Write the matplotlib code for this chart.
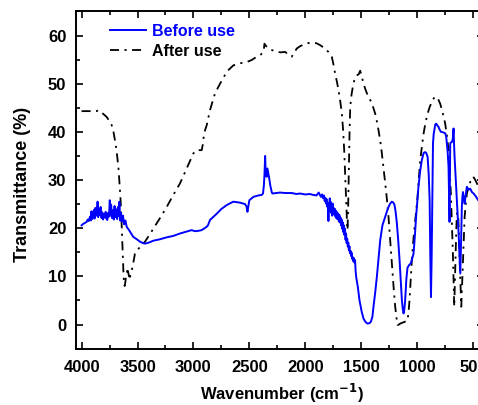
import matplotlib.pyplot as plt
from matplotlib.ticker import MultipleLocator

plt.rcParams['font.family'] = ['Liberation Sans', 'DejaVu Sans']
plt.rcParams['font.weight'] = 'bold'

# Before use (blue) - wavenumber / transmittance
before_wn = [4000, 3985, 3970, 3955, 3945, 3935, 3925, 3918, 3912, 3905, 3898, 3890,
             3884, 3878, 3870, 3862, 3857, 3852, 3845, 3838, 3830, 3822, 3815, 3808,
             3800, 3792, 3785, 3778, 3770, 3762, 3755, 3748, 3742, 3736, 3728, 3720,
             3712, 3705, 3698, 3690, 3682, 3675, 3668, 3662, 3655, 3648, 3640, 3630,
             3620, 3608, 3597, 3570, 3538, 3500, 3478, 3450, 3433, 3400, 3359, 3300,
             3239, 3180, 3120, 3060, 3016, 2990, 2971, 2945, 2926, 2900, 2881, 2870,
             2852, 2820, 2792, 2750, 2702, 2670, 2643, 2610, 2583, 2555, 2538, 2525,
             2517, 2508, 2500, 2480, 2464, 2420, 2390, 2378, 2370, 2364, 2359, 2354,
             2348, 2344, 2338, 2335, 2328, 2320, 2314, 2300, 2294, 2260, 2225, 2180,
             2120, 2080, 2046, 2000, 1960, 1927, 1900, 1880, 1860, 1850, 1840, 1832,
             1826, 1820, 1814, 1808, 1802, 1797, 1793, 1789, 1785, 1781, 1778, 1774,
             1770, 1765, 1760, 1755, 1750, 1745, 1740, 1735, 1730, 1725, 1720, 1715,
             1710, 1705, 1700, 1695, 1690, 1685, 1680, 1675, 1670, 1665, 1660, 1655,
             1650, 1645, 1640, 1635, 1630, 1625, 1620, 1615, 1610, 1605, 1600, 1595,
             1590, 1585, 1580, 1575, 1570, 1565, 1560, 1555, 1550, 1545, 1530, 1515,
             1495, 1479, 1460, 1443, 1425, 1413, 1400, 1390, 1375, 1360, 1345, 1330,
             1310, 1285, 1260, 1241, 1226, 1212, 1202, 1192, 1181, 1170, 1157, 1146,
             1136, 1128, 1121, 1114, 1107, 1096, 1086, 1070, 1056, 1045, 1032, 1020,
             1009, 998, 988, 972, 958, 942, 928, 918, 906, 896, 888, 882, 876, 870,
             864, 860, 858, 852, 846, 838, 829, 818, 808, 797, 787, 768, 749, 740,
             734, 726, 719, 714, 710, 707, 704, 697, 689, 681, 674, 669, 665, 655,
             644, 636, 629, 621, 614, 607, 600, 595, 590, 583, 575, 565, 555, 540,
             525, 510, 495, 475, 453]
before_t = [20.6, 20.9, 21.1, 21.3, 21.8, 21.5, 22.4, 21.6, 23.5, 21.9, 22.8, 23.8,
            22.0, 24.2, 22.6, 23.6, 25.5, 22.3, 24.0, 22.7, 24.4, 22.1, 23.3, 21.8,
            22.9, 22.2, 23.4, 22.0, 21.7, 23.2, 22.4, 25.8, 22.6, 24.9, 22.1, 23.7,
            21.8, 24.6, 22.3, 23.9, 21.9, 24.4, 22.5, 25.5, 21.6, 23.2, 21.4, 22.6,
            20.8, 21.6, 20.3, 19.4, 18.2, 17.6, 17.2, 16.9, 16.8, 17.0, 17.4, 17.7,
            18.1, 18.4, 18.9, 19.3, 19.6, 19.4, 19.4, 19.5, 19.6, 20.0, 20.3, 20.6,
            21.7, 22.4, 23.0, 24.0, 24.8, 25.2, 25.5, 25.4, 25.3, 25.1, 25.0, 24.5,
            23.4, 24.6, 25.8, 26.2, 26.5, 26.8, 26.9, 27.2, 28.9, 31.5, 35.0, 31.8,
            30.7, 30.7, 32.4, 32.0, 31.0, 30.0, 29.0, 27.5, 27.2, 27.3, 27.4, 27.3,
            27.3, 27.1, 27.2, 27.0, 27.1, 26.9, 26.8, 27.4, 26.5, 27.0, 26.2, 26.8,
            25.6, 26.3, 25.1, 26.0, 24.4, 25.3, 21.5, 25.0, 23.6, 26.2, 24.0, 25.5,
            23.2, 24.8, 22.6, 25.1, 23.4, 24.2, 22.8, 24.0, 22.4, 23.6, 22.0, 23.3,
            21.9, 23.0, 21.4, 22.7, 21.2, 22.2, 20.6, 21.8, 19.9, 21.2, 19.2, 20.6,
            18.6, 19.9, 17.6, 18.9, 16.9, 17.8, 16.2, 17.0, 15.4, 16.2, 14.8, 15.3,
            14.2, 14.9, 13.6, 14.0, 13.1, 13.8, 12.9, 13.4, 11.2, 9.9, 7.8, 5.0,
            2.6, 1.2, 0.5, 0.2, 0.3, 0.6, 1.6, 3.7, 6.6, 9.9, 13.8, 17.5,
            20.6, 22.4, 24.2, 25.1, 25.5, 25.3, 24.8, 23.4, 21.0, 17.8, 13.4, 9.0,
            5.0, 3.2, 2.3, 3.2, 5.0, 9.5, 11.8, 12.4, 12.7, 13.6, 14.7, 18.4,
            22.4, 25.8, 28.6, 32.0, 34.1, 35.6, 35.8, 35.6, 34.8, 31.0, 25.8, 14.0,
            5.7, 14.0, 25.8, 32.0, 37.6, 39.5, 40.3, 41.5, 41.7, 41.3, 41.0, 40.4,
            40.0, 39.9, 39.7, 39.0, 37.6, 35.5, 32.7, 26.0, 21.3, 30.0, 37.6, 37.8,
            37.9, 38.5, 40.7, 37.0, 34.8, 30.5, 25.8, 22.0, 18.9, 14.5, 10.6, 17.0,
            24.4, 26.5, 27.5, 26.2, 25.1, 27.0, 28.6, 28.0, 28.2, 27.5, 27.2, 26.6,
            25.8]

# After use (black dash-dot)
after_wn = [4000, 3950, 3900, 3866, 3850, 3820, 3800, 3776, 3750, 3731, 3715, 3702,
            3690, 3681, 3670, 3663, 3655, 3648, 3640, 3633, 3626, 3621, 3615, 3609,
            3603, 3596, 3590, 3583, 3576, 3567, 3556, 3544, 3523, 3500, 3478, 3455,
            3433, 3380, 3329, 3280, 3239, 3180, 3120, 3060, 3001, 2985, 2971, 2950,
            2926, 2915, 2905, 2881, 2852, 2830, 2807, 2785, 2762, 2730, 2702, 2670,
            2643, 2590, 2523, 2480, 2434, 2400, 2374, 2368, 2365, 2350, 2330, 2290,
            2255, 2220, 2180, 2150, 2121, 2100, 2076, 2045, 2016, 1980, 1942, 1900,
            1867, 1830, 1793, 1763, 1748, 1733, 1718, 1703, 1688, 1673, 1662, 1652,
            1643, 1634, 1628, 1622, 1616, 1610, 1604, 1598, 1586, 1575, 1564, 1554,
            1543, 1533, 1521, 1509, 1495, 1479, 1465, 1449, 1427, 1405, 1390, 1375,
            1360, 1345, 1330, 1315, 1300, 1285, 1270, 1256, 1241, 1226, 1211, 1196,
            1185, 1175, 1163, 1151, 1130, 1107, 1096, 1086, 1077, 1068, 1058, 1047,
            1032, 1017, 1006, 996, 984, 972, 957, 942, 924, 906, 887, 868, 853,
            838, 823, 808, 793, 778, 763, 749, 734, 719, 709, 698, 689, 680, 674,
            668, 662, 656, 650, 644, 638, 632, 626, 620, 612, 605, 598, 590, 582,
            575, 565, 555, 540, 525, 510, 501, 490, 480, 465, 453]
after_t = [44.3, 44.3, 44.3, 44.3, 44.5, 44.0, 43.6, 43.1, 42.2, 41.4, 40.0, 38.3,
           36.5, 34.8, 32.4, 30.0, 27.2, 24.4, 19.5, 14.7, 11.0, 8.5, 8.0, 8.8,
           9.9, 10.5, 11.8, 10.8, 10.0, 9.9, 10.9, 12.0, 14.7, 15.5, 16.1, 16.7,
           17.2, 19.1, 21.0, 22.8, 24.4, 26.9, 29.3, 32.4, 35.5, 36.0, 36.2, 36.2,
           36.2, 37.5, 39.7, 41.4, 44.5, 46.2, 48.0, 49.0, 50.0, 51.3, 52.5, 53.2,
           53.8, 54.2, 54.5, 54.9, 55.6, 56.0, 56.6, 57.6, 58.3, 57.8, 57.3, 56.9,
           56.6, 56.5, 56.6, 56.0, 55.6, 56.4, 57.3, 57.8, 58.1, 58.4, 58.5, 58.4,
           58.0, 57.4, 56.6, 55.6, 54.0, 52.1, 50.5, 48.7, 46.5, 43.8, 40.5, 36.2,
           31.0, 25.8, 22.0, 19.6, 25.0, 32.7, 40.0, 45.2, 47.8, 49.3, 50.5, 51.3,
           51.5, 51.8, 52.0, 52.7, 51.5, 50.0, 49.0, 48.0, 47.0, 45.9, 44.9, 43.8,
           42.2, 40.3, 38.2, 35.5, 32.5, 29.3, 26.0, 22.4, 17.6, 12.7, 8.0, 3.7,
           1.5, -0.1, 0.0, 0.2, 0.4, 0.6, 0.7, 0.8, 2.5, 5.0, 9.0, 13.4,
           18.0, 21.7, 24.2, 26.5, 30.5, 34.1, 37.0, 39.7, 42.0, 43.8, 45.2, 46.2,
           46.9, 47.3, 47.2, 46.6, 45.8, 44.5, 43.2, 41.7, 39.3, 36.2, 32.0, 27.2,
           21.0, 14.7, 9.0, 3.7, 9.0, 14.7, 19.5, 23.0, 23.2, 22.4, 18.5, 13.4,
           8.0, 3.7, 8.0, 13.4, 18.0, 22.4, 25.0, 27.2, 28.5, 29.6, 30.2, 30.7,
           30.4, 30.0, 29.3, 28.6]

fig = plt.figure(figsize=(4.78, 4.05), dpi=100)
ax = fig.add_axes([0.159, 0.138, 0.854, 0.835])

ax.plot(before_wn, before_t, color='#0000ff', lw=1.4, label='Before use', zorder=3)
ax.plot(after_wn, after_t, color='black', lw=1.3, linestyle=(0, (5, 3, 1.2, 3)),
        label='After use', zorder=2)

ax.set_xlim(4050, 400)
ax.set_ylim(-5.1, 65.1)
ax.xaxis.set_major_locator(MultipleLocator(500))
ax.xaxis.set_minor_locator(MultipleLocator(250))
ax.yaxis.set_major_locator(MultipleLocator(10))
ax.yaxis.set_minor_locator(MultipleLocator(5))
ax.tick_params(which='both', direction='in', top=True, right=True, width=1.2)
ax.tick_params(which='major', length=5, labelsize=12)
ax.tick_params(which='minor', length=3)
ax.tick_params(axis='x', pad=8)
ax.tick_params(axis='y', pad=7)
for lab in ax.get_xticklabels() + ax.get_yticklabels():
    lab.set_fontweight('bold')
for sp in ax.spines.values():
    sp.set_linewidth(1.4)

ax.set_xlabel('Wavenumber (cm$^{\\mathbf{-1}}$)', fontsize=12, fontweight='bold')
ax.set_ylabel('Transmittance (%)', fontsize=13, fontweight='bold')
ax.xaxis.set_label_coords(0.505, -0.098)
ax.yaxis.set_label_coords(-0.11, 0.488)

leg = ax.legend(loc='upper left', bbox_to_anchor=(0.055, 0.995), frameon=False,
                fontsize=11.5, handlelength=2.3, handletextpad=0.35, labelspacing=0.3,
                borderpad=0.2)
leg.get_texts()[0].set_color('#0000ff')
for t in leg.get_texts():
    t.set_fontweight('bold')

fig.savefig('out.png', dpi=100)
